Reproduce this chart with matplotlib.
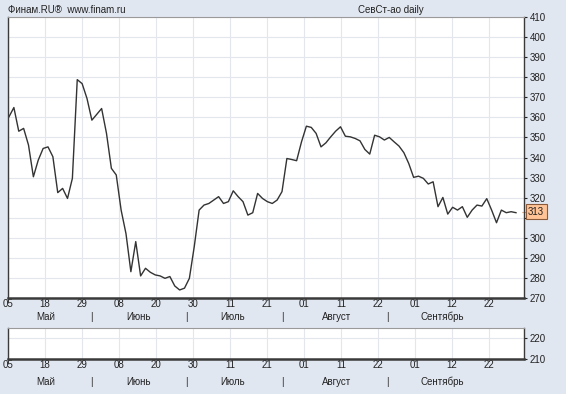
import matplotlib
matplotlib.use("Agg")
import matplotlib.pyplot as plt
import numpy as np

plt.rcParams['font.family'] = ['Liberation Sans', 'DejaVu Sans']

# Closing prices (trading days, May..Sept)
prices = [360.3, 364.9, 353.1, 354.5, 346.2, 330.4, 338.7, 344.5, 345.3, 340.4,
          322.5, 324.6, 319.6, 329.6, 378.8, 376.8, 369.4, 358.6, 361.5, 364.4,
          352.0, 334.6, 331.3, 313.8, 302.0, 283.1, 298.1, 281.0, 284.8, 282.8,
          281.5, 281.0, 279.8, 280.7, 276.0, 274.0, 274.9, 279.8, 295.6, 313.8,
          316.3, 317.1, 318.8, 320.5, 317.1, 318.0, 323.4, 320.5, 318.0, 311.3,
          312.5, 322.1, 319.6, 318.0, 317.1, 318.8, 323.0, 339.5, 339.0, 338.4,
          347.8, 355.6, 355.0, 352.0, 345.3, 347.3, 350.3, 353.1, 355.3, 350.6,
          350.3, 349.5, 348.3, 344.0, 341.7, 351.1, 350.3, 348.7, 350.0, 347.8,
          345.7, 342.4, 337.0, 330.1, 330.7, 329.6, 326.8, 327.9, 315.5, 320.1,
          311.8, 315.2, 313.8, 315.5, 310.2, 313.8, 316.3, 315.8, 319.5, 313.8,
          307.5, 313.8, 312.5, 313.0, 312.5]
last_price = 313
tick_labels = ['05', '18', '29', '08', '20', '30', '11', '21', '01', '11', '22', '01', '12', '22']
months = ['Май', 'Июнь', 'Июль', 'Август', 'Сентябрь']
month_centers = [46, 138, 233, 337, 442]      # pixel centres of month names
month_seps = [91, 186, 282, 387]
y_ticks_main = list(range(270, 411, 10))
y_ticks_sub = [210, 220]

W, H = 566, 394
BG = '#E1E7F1'
GRID = '#E4E6EE'
FRAME = '#3A3A3A'

fig = plt.figure(figsize=(W / 100, H / 100), dpi=100, facecolor=BG)

L, R = 8, 524
def axes_px(top, bottom):
    return [L / W, 1 - bottom / H, (R - L) / W, (bottom - top) / H]

n = len(prices)
x = np.arange(n)
px_per_pt = (516 - 9) / (n - 1)
x0 = -(9 - L) / px_per_pt
x1 = x0 + (R - L) / px_per_pt
tick_pos = [x0 + (k * 37.0) / px_per_pt for k in range(len(tick_labels))]

def px2x(p):
    return x0 + (p - L) / px_per_pt

def style_axes(ax, yticks, ylim, month_off):
    ax.set_facecolor('white')
    ax.set_xlim(x0, x1)
    ax.set_ylim(*ylim)
    ax.set_xticks(tick_pos)
    ax.set_xticklabels(tick_labels, fontsize=7)
    ax.set_yticks(yticks)
    ax.set_yticklabels(['' if v == 310 else str(v) for v in yticks])
    ax.yaxis.tick_right()
    ax.tick_params(axis='y', labelsize=7, length=2, pad=2, colors='#222222')
    ax.tick_params(axis='x', length=0, pad=1, colors='#222222')
    ax.grid(True, color=GRID, linewidth=0.8)
    ax.set_axisbelow(True)
    for s in ['left', 'right']:
        ax.spines[s].set_color(FRAME)
        ax.spines[s].set_linewidth(1.0)
    ax.spines['bottom'].set_color(FRAME)
    ax.spines['bottom'].set_linewidth(1.8)
    ax.spines['top'].set_color('#9A9A9A')
    ax.spines['top'].set_linewidth(0.8)
    # month labels
    trans = ax.get_xaxis_transform()
    for name, c in zip(months, month_centers):
        ax.text(px2x(c), month_off, name, transform=trans,
                ha='center', va='baseline', fontsize=7, color='#222222')
    for s in month_seps:
        ax.text(px2x(s), month_off, '|', transform=trans,
                ha='center', va='baseline', fontsize=7, color='#222222')

ax = fig.add_axes(axes_px(17, 298))
style_axes(ax, y_ticks_main, (270, 410), -22 / 281)
ax.plot(x, prices, color='#333333', linewidth=1.0)

# last price marker
ax.annotate(str(last_price), xy=(x1, last_price), xycoords='data',
            xytext=(3, 0), textcoords='offset points', ha='left', va='center',
            fontsize=7, color='#222222', annotation_clip=False,
            bbox=dict(boxstyle='square,pad=0.25', fc='#FFC396', ec='#8A5A3A', lw=0.8))
ax.plot([x[-1] + 1.2, x1 + 0.6], [last_price, last_price], color='#D08050', lw=0.8,
        linestyle=(0, (1, 1)), clip_on=False)

ax2 = fig.add_axes(axes_px(328, 359))
style_axes(ax2, y_ticks_sub, (210, 225), -26 / 31)

fig.text(8 / W, 1 - 10 / H, 'Финам.RU®  www.finam.ru', fontsize=7, ha='left',
         va='center', color='#222222')
fig.text(391 / W, 1 - 10 / H, 'СевСт-ао daily', fontsize=7, ha='center',
         va='center', color='#222222')

fig.savefig('out.png', dpi=100, facecolor=BG)
